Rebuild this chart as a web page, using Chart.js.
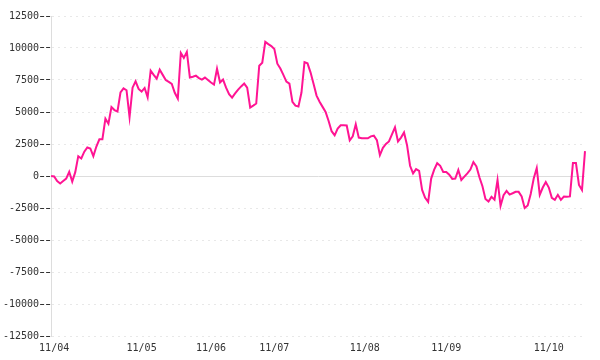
<!DOCTYPE html>
<html>
<head>
<meta charset="utf-8">
<script src="https://cdn.jsdelivr.net/npm/chart.js@4"></script>
<style>
  html, body { margin: 0; padding: 0; background: #fff; }
  #wrap { width: 600px; height: 360px; }
</style>
</head>
<body>
<div id="wrap"><canvas id="myChart"></canvas></div>
<script>
// series values
var values = [
  0, -30, -400, -580, -390, -200, 330, -440, 300, 1550,
  1370, 1900, 2230, 2150, 1550, 2300, 2870, 2870, 4480, 4090,
  5380, 5150, 5040, 6540, 6850, 6700, 4600, 6900, 7400, 6800,
  6600, 6880, 6150, 8230, 7900, 7600, 8300, 7900, 7500, 7350,
  7200, 6500, 6050, 9620, 9230, 9700, 7700, 7750, 7840, 7650,
  7530, 7690, 7500, 7300, 7140, 8380, 7300, 7530, 6900, 6400,
  6130, 6450, 6750, 7000, 7220, 6900, 5350, 5500, 5660, 8610,
  8850, 10480, 10300, 10150, 9930, 8770, 8400, 7900, 7370, 7220,
  5800, 5500, 5430, 6520, 8900, 8800, 8100, 7200, 6280, 5800,
  5400, 5000, 4300, 3500, 3180, 3700, 3960, 3960, 3950, 2790,
  3100, 4040, 3000, 2950, 2950, 2950, 3100, 3150, 2800, 1630,
  2200, 2500, 2700, 3260, 3800, 2700, 3000, 3400, 2410, 800,
  200, 540, 400, -1090, -1700, -2020, -200, 500, 1000, 800,
  310, 310, 100, -230, -200, 470, -310, -50, 200, 500,
  1090, 750, -100, -800, -1800, -2000, -1630, -1850, -310, -2330,
  -1500, -1160, -1450, -1350, -1240, -1240, -1600, -2500, -2300, -1400,
  -200, 620, -1470, -900, -470, -900, -1700, -1860, -1470, -1860,
  -1600, -1630, -1600, 1010, 1010, -700, -1100, 1940
];

// month tick labels and the data index where each month starts
var monthLabels = ["11/04", "11/05", "11/06", "11/07", "11/08", "11/09", "11/10"];
var monthStarts = [1, 30, 53, 74, 104, 131, 165];

// y ticks
var yMin = -12500;
var yMax = 12500;
var yStep = 2500;

var labels = values.map(function () { return ""; });
monthStarts.forEach(function (idx, i) { labels[idx] = monthLabels[i]; });

var ctx = document.getElementById("myChart").getContext("2d");
var myChart = new Chart(ctx, {
  type: "line",
  data: {
    labels: labels,
    datasets: [
      {
        data: values,
        borderColor: "#FF1493",
        borderWidth: 2,
        pointRadius: 0,
        tension: 0,
        fill: false,
      },
    ],
  },
  options: {
    responsive: true,
    maintainAspectRatio: false,
    animation: false,
    layout: {
      padding: { top: 16, right: 15, left: 2, bottom: 0 },
    },
    plugins: {
      legend: { display: false },
      tooltip: { enabled: false },
    },
    scales: {
      x: {
        grid: { display: false, drawTicks: false, tickLength: 0 },
        border: { display: false },
        ticks: {
          autoSkip: false,
          maxRotation: 0,
          padding: 7,
          color: "#333",
          font: { family: "DejaVu Sans Mono", size: 10, lineHeight: 1 },
        },
      },
      y: {
        min: yMin,
        max: yMax,
        border: {
          display: true,
          color: "#dddddd",
          dash: function (c) {
            return c.tick && c.tick.value === 0 ? [] : [2, 4];
          },
        },
        grid: {
          color: function (c) {
            return c.tick && c.tick.value === 0 ? "#dddddd" : "#e8e8e8";
          },
          tickLength: 11,
          tickColor: "#333",
          tickBorderDash: [4, 2],
        },
        ticks: {
          stepSize: yStep,
          padding: 1,
          color: "#333",
          font: { family: "DejaVu Sans Mono", size: 10 },
          callback: function (v) { return String(v); },
        },
      },
    },
  },
});
</script>
</body>
</html>
